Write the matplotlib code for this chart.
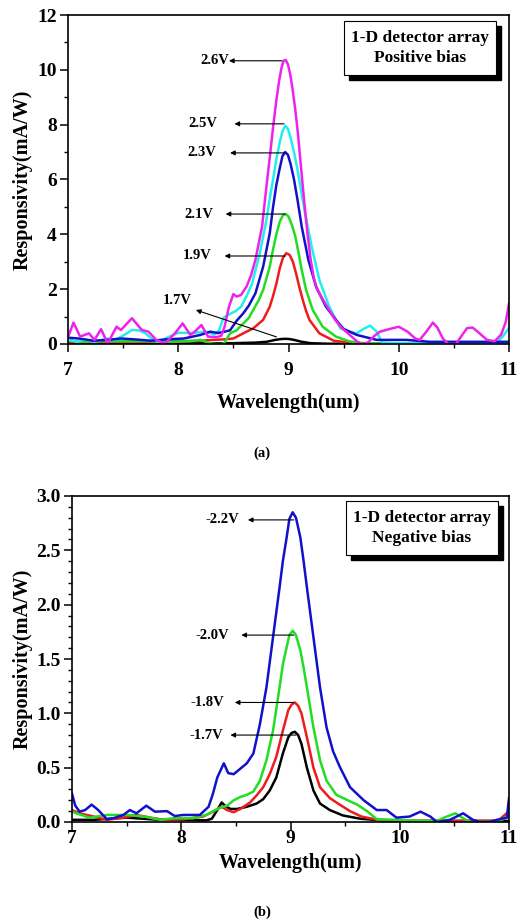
import matplotlib
matplotlib.use('Agg')
import matplotlib.pyplot as plt
from matplotlib.patches import Rectangle
from matplotlib.ticker import MultipleLocator

plt.rcParams['font.family'] = ['Liberation Serif', 'DejaVu Serif']
plt.rcParams['font.weight'] = 'bold'

# ---------------------------------------------------------------- data (a)
pos_bias = ['2.6V', '2.5V', '2.3V', '2.1V', '1.9V', '1.7V']

wl_26 = [7.00, 7.05, 7.11, 7.19, 7.24, 7.30, 7.36, 7.44, 7.48, 7.58, 7.67, 7.73,
         7.80, 7.88, 7.97, 8.04, 8.11, 8.15, 8.21, 8.27, 8.35, 8.39, 8.42, 8.46,
         8.50, 8.53, 8.57, 8.62, 8.66, 8.70, 8.76, 8.80, 8.83, 8.86, 8.89, 8.915,
         8.935, 8.955, 8.975, 8.995, 9.015, 9.035, 9.06, 9.085, 9.11, 9.14, 9.17,
         9.20, 9.23, 9.26, 9.30, 9.36, 9.42, 9.48, 9.55,
         9.62, 9.66, 9.72, 9.78, 9.83, 9.92, 10.00, 10.08, 10.15, 10.19, 10.25,
         10.31, 10.35, 10.40, 10.45, 10.52, 10.57, 10.62, 10.67, 10.73, 10.80,
         10.87, 10.93, 10.97, 11.00]
r_26 = [0.25, 0.78, 0.27, 0.39, 0.15, 0.54, 0.02, 0.63, 0.51, 0.94, 0.51, 0.45,
        0.15, 0.02, 0.39, 0.75, 0.33, 0.45, 0.69, 0.27, 0.25, 0.30, 0.63, 1.36,
        1.82, 1.73, 1.79, 2.10, 2.50, 3.07, 4.28, 5.74, 6.80, 7.90, 8.90, 9.60,
        10.05, 10.33, 10.36, 10.20, 9.85, 9.35, 8.60, 7.70, 6.60, 5.30, 4.10,
        3.10, 2.40, 1.98, 1.70, 1.30, 0.90, 0.60, 0.35,
        0.10, 0.00, 0.05, 0.30, 0.45, 0.55, 0.63, 0.45, 0.20, 0.15, 0.45,
        0.78, 0.60, 0.20, 0.00, 0.00, 0.30, 0.58, 0.60, 0.40, 0.15,
        0.10, 0.35, 0.80, 1.47]

wl_25 = [7.00, 7.08, 7.15, 7.24, 7.36, 7.43, 7.51, 7.58, 7.64, 7.70, 7.77, 7.82,
         7.91, 8.00, 8.13, 8.25, 8.33, 8.37, 8.41, 8.45, 8.52, 8.57, 8.62, 8.67,
         8.74, 8.80, 8.83, 8.86, 8.89, 8.92, 8.945, 8.97, 8.995, 9.02, 9.05, 9.08,
         9.11, 9.15, 9.21, 9.28, 9.37, 9.47,
         9.55, 9.62, 9.68, 9.74, 9.80, 9.85, 9.95, 10.20, 10.50, 10.80, 10.89,
         10.95, 11.00]
r_25 = [0.17, 0.08, 0.17, 0.08, 0.20, 0.15, 0.33, 0.51, 0.50, 0.40, 0.15, 0.08,
        0.25, 0.41, 0.40, 0.45, 0.35, 0.50, 0.95, 1.06, 1.20, 1.36, 1.75, 2.21,
        3.31, 4.53, 5.30, 6.00, 6.75, 7.35, 7.75, 7.96, 7.85, 7.50, 7.00, 6.40,
        5.70, 4.77, 3.55, 2.34, 1.36, 0.57,
        0.45, 0.39, 0.55, 0.67, 0.45, 0.05, 0.03, 0.03, 0.03, 0.03, 0.05,
        0.30, 0.60]

wl_23 = [7.00, 7.10, 7.23, 7.36, 7.48, 7.60, 7.75, 7.90, 8.05, 8.20, 8.29, 8.36,
         8.42, 8.47, 8.53, 8.59, 8.64, 8.70, 8.77, 8.83, 8.86, 8.89, 8.92, 8.945,
         8.97, 8.995, 9.02, 9.05, 9.08, 9.12, 9.18, 9.25, 9.34, 9.43, 9.50, 9.62,
         9.80, 10.07, 10.28, 10.60, 11.00]
r_23 = [0.23, 0.20, 0.12, 0.15, 0.20, 0.17, 0.12, 0.17, 0.20, 0.33, 0.45, 0.40,
        0.45, 0.50, 0.85, 1.12, 1.40, 1.85, 2.82, 4.04, 5.00, 5.80, 6.40, 6.85,
        7.00, 6.90, 6.55, 6.00, 5.30, 4.28, 3.07, 2.09, 1.36, 0.88, 0.55, 0.33,
        0.15, 0.15, 0.08, 0.08, 0.08]

wl_21 = [7.00, 7.10, 7.30, 7.50, 7.70, 7.90, 8.10, 8.20, 8.25, 8.30, 8.35, 8.40,
         8.42, 8.47, 8.53, 8.59, 8.64, 8.68, 8.73, 8.77, 8.83, 8.86, 8.89, 8.92,
         8.95, 8.975, 9.00, 9.03, 9.06, 9.09, 9.12, 9.16, 9.22, 9.31, 9.43, 9.55,
         9.65, 9.80, 10.20, 11.00]
r_21 = [0.12, 0.08, 0.10, 0.10, 0.10, 0.08, 0.10, 0.15, 0.08, 0.02, 0.00, 0.00,
        0.05, 0.39, 0.50, 0.75, 0.95, 1.24, 1.60, 1.97, 2.82, 3.45, 4.00, 4.45,
        4.70, 4.74, 4.65, 4.35, 3.95, 3.35, 2.70, 1.97, 1.24, 0.63, 0.27, 0.10,
        0.04, 0.02, 0.02, 0.02]

wl_19 = [7.00, 7.20, 7.40, 7.60, 7.80, 8.00, 8.20, 8.32, 8.42, 8.50, 8.59, 8.68,
         8.77, 8.83, 8.86, 8.89, 8.92, 8.95, 8.98, 9.01, 9.04, 9.07, 9.10, 9.13,
         9.16, 9.19, 9.28, 9.41, 9.60, 9.80, 10.20, 11.00]
r_19 = [0.05, 0.05, 0.06, 0.06, 0.08, 0.10, 0.12, 0.15, 0.17, 0.20, 0.39, 0.57,
        0.88, 1.36, 1.75, 2.20, 2.75, 3.15, 3.31, 3.25, 3.00, 2.55, 2.05, 1.60,
        1.20, 0.88, 0.39, 0.12, 0.03, 0.02, 0.02, 0.02]

wl_17 = [7.00, 7.50, 8.00, 8.50, 8.70, 8.80, 8.88, 8.93, 8.97, 9.01, 9.05, 9.12,
         9.20, 9.35, 10.00, 11.00]
r_17 = [0.02, 0.02, 0.02, 0.03, 0.05, 0.08, 0.15, 0.18, 0.19, 0.18, 0.15, 0.08,
        0.03, 0.01, 0.01, 0.01]

# ---------------------------------------------------------------- data (b)
neg_bias = ['-2.2V', '-2.0V', '-1.8V', '-1.7V']

wl_m22 = [7.00, 7.03, 7.07, 7.12, 7.18, 7.24, 7.32, 7.38, 7.47, 7.53, 7.59, 7.68,
          7.76, 7.87, 7.94, 8.02, 8.17, 8.25, 8.29, 8.33, 8.39, 8.43, 8.48, 8.54,
          8.60, 8.66, 8.72, 8.78, 8.84, 8.90, 8.93, 8.965, 8.99, 9.02, 9.05, 9.09,
          9.12, 9.15, 9.21, 9.27, 9.33, 9.39, 9.45, 9.545, 9.67, 9.79, 9.88, 9.97,
          10.09, 10.19, 10.28, 10.34, 10.46, 10.58, 10.67, 10.73, 10.82, 10.89,
          10.98, 11.00]
r_m22 = [0.26, 0.15, 0.095, 0.11, 0.16, 0.11, 0.025, 0.035, 0.065, 0.11, 0.08,
         0.15, 0.095, 0.10, 0.055, 0.065, 0.065, 0.14, 0.26, 0.41, 0.54, 0.45,
         0.44, 0.49, 0.54, 0.63, 0.90, 1.24, 1.70, 2.16, 2.40, 2.62, 2.79, 2.85,
         2.80, 2.62, 2.40, 2.16, 1.70, 1.24, 0.87, 0.65, 0.51, 0.32, 0.20, 0.11,
         0.11, 0.04, 0.05, 0.095, 0.05, 0.00, 0.02, 0.08, 0.02, 0.00, 0.00, 0.02,
         0.04, 0.22]

wl_m20 = [7.00, 7.07, 7.16, 7.32, 7.51, 7.66, 7.81, 7.93, 8.11, 8.23, 8.35, 8.42,
          8.48, 8.54, 8.60, 8.66, 8.72, 8.78, 8.84, 8.90, 8.93, 8.965, 8.99, 9.02,
          9.05, 9.09, 9.12, 9.15, 9.21, 9.27, 9.33, 9.42, 9.545, 9.61, 9.70, 9.79,
          9.97, 10.16, 10.34, 10.43, 10.51, 10.58, 10.64, 10.89, 11.00]
r_m20 = [0.095, 0.07, 0.04, 0.065, 0.065, 0.05, 0.02, 0.035, 0.035, 0.065, 0.13,
         0.15, 0.20, 0.23, 0.25, 0.28, 0.38, 0.57, 0.84, 1.24, 1.45, 1.61, 1.72,
         1.76, 1.72, 1.58, 1.42, 1.24, 0.87, 0.57, 0.38, 0.25, 0.19, 0.16, 0.10,
         0.025, 0.02, 0.01, 0.01, 0.05, 0.08, 0.035, 0.00, 0.00, 0.05]

wl_m18 = [7.00, 7.07, 7.20, 7.32, 7.47, 7.59, 7.72, 7.84, 8.02, 8.20, 8.29, 8.37,
          8.42, 8.48, 8.54, 8.63, 8.69, 8.75, 8.81, 8.87, 8.93, 8.98, 9.01, 9.04,
          9.07, 9.10, 9.15, 9.21, 9.27, 9.36, 9.45, 9.545, 9.65, 9.80, 10.00,
          10.50, 10.90, 11.00]
r_m18 = [0.11, 0.08, 0.05, 0.02, 0.04, 0.065, 0.04, 0.02, 0.025, 0.05, 0.095,
         0.14, 0.11, 0.09, 0.12, 0.18, 0.245, 0.32, 0.44, 0.60, 0.84, 1.03, 1.08,
         1.10, 1.07, 1.00, 0.78, 0.50, 0.32, 0.22, 0.16, 0.10, 0.05, 0.02, 0.01,
         0.01, 0.01, 0.10]

wl_m17 = [7.00, 7.20, 7.50, 7.80, 8.00, 8.23, 8.28, 8.33, 8.37, 8.40, 8.45, 8.51,
          8.60, 8.69, 8.75, 8.81, 8.87, 8.93, 8.98, 9.01, 9.04, 9.07, 9.10, 9.15,
          9.21, 9.27, 9.36, 9.48, 9.64, 9.90, 10.50, 11.00]
r_m17 = [0.02, 0.02, 0.04, 0.02, 0.02, 0.015, 0.03, 0.11, 0.18, 0.15, 0.12, 0.12,
         0.14, 0.17, 0.21, 0.29, 0.41, 0.63, 0.78, 0.82, 0.83, 0.80, 0.72, 0.50,
         0.29, 0.17, 0.11, 0.06, 0.03, 0.01, 0.01, 0.01]

W, H = 529, 921
fig = plt.figure(figsize=(W / 100, H / 100), dpi=100)


def axes_px(l, t, r, b):
    return fig.add_axes([l / W, 1 - b / H, (r - l) / W, (b - t) / H])


def style(ax, ymax, ymajor, yminor, fmt, xpad, xlabelpad):
    ax.set_xlim(7, 11)
    ax.set_ylim(0, ymax)
    ax.xaxis.set_major_locator(MultipleLocator(1))
    ax.xaxis.set_minor_locator(MultipleLocator(0.5))
    ax.yaxis.set_major_locator(MultipleLocator(ymajor))
    ax.yaxis.set_minor_locator(MultipleLocator(yminor))
    ax.yaxis.set_major_formatter(fmt)
    ax.tick_params(which='major', length=6, width=1.1, labelsize=14)
    ax.tick_params(axis='x', which='major', pad=xpad)
    ax.tick_params(axis='y', which='major', pad=2)
    ax.tick_params(which='minor', length=3, width=1.0)
    for s in ax.spines.values():
        s.set_linewidth(1.2)
    ax.set_xlabel('Wavelength(um)', fontsize=14.5, fontweight='bold',
                  labelpad=xlabelpad)
    ax.set_ylabel('Responsivity(mA/W)', fontsize=14.5, fontweight='bold',
                  labelpad=3)


def shadow_box(ax, x0, y0, x1, y1, text):
    dx, dy = 0.012, 0.016
    ax.add_patch(Rectangle((x0 + dx, y0 - dy), x1 - x0, y1 - y0, transform=ax.transAxes,
                           facecolor='black', edgecolor='black', zorder=5))
    ax.add_patch(Rectangle((x0, y0), x1 - x0, y1 - y0, transform=ax.transAxes,
                           facecolor='white', edgecolor='black', lw=0.8, zorder=6))
    ax.text((x0 + x1) / 2, (y0 + y1) / 2, text, transform=ax.transAxes, ha='center',
            va='center', fontsize=12.5, fontweight='bold', linespacing=1.35, zorder=7)


def tag(ax, label, tx, ty, tail, head):
    ax.annotate('', xy=head, xytext=tail,
                arrowprops=dict(arrowstyle='-|>', lw=0.8, color='black',
                                mutation_scale=7, shrinkA=0, shrinkB=0), zorder=4)
    ax.text(tx, ty, label, ha='center', va='center', fontsize=10.5, fontweight='bold')


# ------------------------------------------------------------------ panel a
ax1 = axes_px(68, 15, 509, 344)
lw = 1.8
ax1.plot(wl_17, r_17, color='black', lw=lw)
ax1.plot(wl_19, r_19, color='#ee1c1c', lw=lw)
ax1.plot(wl_21, r_21, color='#22dd22', lw=lw)
ax1.plot(wl_25, r_25, color='#22eeee', lw=lw)
ax1.plot(wl_23, r_23, color='#1111cc', lw=lw)
ax1.plot(wl_26, r_26, color='#ee22ee', lw=lw)
style(ax1, 12, 2, 1, '{x:.0f}', 7, 10)
shadow_box(ax1, 0.626, 0.818, 0.970, 0.983, '1-D detector array\nPositive bias')

tag(ax1, pos_bias[0], 8.33, 10.33, (8.94, 10.33), (8.46, 10.33))
tag(ax1, pos_bias[1], 8.22, 8.03, (8.96, 8.03), (8.51, 8.03))
tag(ax1, pos_bias[2], 8.21, 6.97, (8.96, 6.97), (8.47, 6.97))
tag(ax1, pos_bias[3], 8.19, 4.74, (8.97, 4.74), (8.43, 4.74))
tag(ax1, pos_bias[4], 8.17, 3.21, (8.97, 3.21), (8.42, 3.21))
tag(ax1, pos_bias[5], 7.99, 1.57, (8.89, 0.26), (8.16, 1.24))

fig.text(262 / W, 1 - 453 / H, '(a)', ha='center', va='center', fontsize=10.5,
         fontweight='bold')

# ------------------------------------------------------------------ panel b
ax2 = axes_px(72, 496, 509, 822)
ax2.plot(wl_m17, r_m17, color='black', lw=lw)
ax2.plot(wl_m18, r_m18, color='#ee1c1c', lw=lw)
ax2.plot(wl_m20, r_m20, color='#22dd22', lw=lw)
ax2.plot(wl_m22, r_m22, color='#1111cc', lw=lw)
style(ax2, 3.0, 0.5, 0.1, '{x:.1f}', 0, 4)
shadow_box(ax2, 0.627, 0.819, 0.975, 0.985, '1-D detector array\nNegative bias')

tag(ax2, neg_bias[0], 8.38, 2.78, (9.03, 2.78), (8.61, 2.78))
tag(ax2, neg_bias[1], 8.28, 1.72, (9.03, 1.72), (8.55, 1.72))
tag(ax2, neg_bias[2], 8.24, 1.10, (9.03, 1.10), (8.49, 1.10))
tag(ax2, neg_bias[3], 8.23, 0.80, (9.05, 0.80), (8.45, 0.80))

fig.text(262 / W, 1 - 912 / H, '(b)', ha='center', va='center', fontsize=10.5,
         fontweight='bold')

fig.savefig('out.png', dpi=100)
